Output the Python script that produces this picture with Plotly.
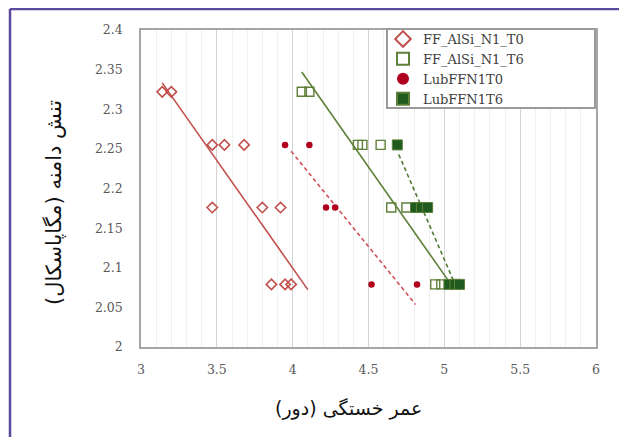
import numpy as np
import plotly.graph_objects as go

# ---- data (log10 cycles vs log10 stress amplitude) ----
t0_x = [3.14, 3.20, 3.47, 3.55, 3.68, 3.47, 3.80, 3.92, 3.86, 3.95, 3.99]
t0_y = [2.322, 2.322, 2.255, 2.255, 2.255, 2.176, 2.176, 2.176, 2.079, 2.079, 2.079]

t6_x = [4.06, 4.11, 4.43, 4.46, 4.58, 4.65, 4.75, 4.94, 4.98]
t6_y = [2.322, 2.322, 2.255, 2.255, 2.255, 2.176, 2.176, 2.079, 2.079]

lub_t0_x = [3.95, 4.11, 4.22, 4.28, 4.52, 4.82]
lub_t0_y = [2.255, 2.255, 2.176, 2.176, 2.079, 2.079]

lub_t6_x = [4.69, 4.81, 4.85, 4.89, 5.03, 5.07, 5.10]
lub_t6_y = [2.255, 2.176, 2.176, 2.176, 2.079, 2.079, 2.079]

series_names = ["FF_AlSi_N1_T0", "FF_AlSi_N1_T6", "LubFFN1T0", "LubFFN1T6"]
# x extent of each drawn trendline
trend_span = {
    "FF_AlSi_N1_T0": [3.14, 4.10],
    "FF_AlSi_N1_T6": [4.06, 5.03],
    "LubFFN1T0": [3.99, 4.81],
    "LubFFN1T6": [4.70, 5.07],
}

x_ticks = [3, 3.5, 4, 4.5, 5, 5.5, 6]
y_ticks = [2, 2.05, 2.1, 2.15, 2.2, 2.25, 2.3, 2.35, 2.4]
x_title = "عمر خستگی (دور)"
y_title = "تنش دامنه (مگاپاسکال)"

RED = "#C0504D"
DRED = "#B0001E"
GREEN = "#5E8038"
DGREEN = "#1F5A1F"
SHORT_DASH = "4px,3px"

fig = go.Figure()

specs = [
    (series_names[0], t0_x, t0_y, dict(symbol="diamond-open", size=8, color=RED, line=dict(width=1.6, color=RED)),
     dict(color=RED, width=1.6, dash="solid")),
    (series_names[1], t6_x, t6_y, dict(symbol="square-open", size=9, color=GREEN, line=dict(width=1.4, color=GREEN)),
     dict(color=GREEN, width=1.6, dash="solid")),
    (series_names[2], lub_t0_x, lub_t0_y, dict(symbol="circle", size=6.5, color=DRED, line=dict(width=0)),
     dict(color="#D0505A", width=1.6, dash=SHORT_DASH)),
    (series_names[3], lub_t6_x, lub_t6_y, dict(symbol="square", size=10, color=DGREEN, line=dict(width=1, color="#5E8038")),
     dict(color="#4E7A34", width=1.6, dash=SHORT_DASH)),
]

# trendlines (least squares y on x)
for name, xs, ys, mk, ln in specs:
    b, a = np.polyfit(np.array(xs), np.array(ys), 1)
    xr = np.array(trend_span[name])
    fig.add_trace(go.Scatter(x=xr, y=a + b * xr, mode="lines", line=ln,
                             showlegend=False, hoverinfo="skip"))

for name, xs, ys, mk, ln in specs:
    fig.add_trace(go.Scatter(x=xs, y=ys, mode="markers", name=name, marker=mk))

# target-window pixel geometry (page body has an 8px margin)
OFF = 8
W, H = 627 - OFF, 437 - OFF
PL, PR, PT, PB = 141, 596, 30, 347   # plot box in window pixels
L, T = PL - OFF, PT - OFF
R, B = 627 - PR, 437 - PB
pw, ph = PR - PL, PB - PT

def fx(px):
    return (px - PL) / pw

def fy(py):
    return (PB - py) / ph

purple = "#5B4A9B"
fig.add_shape(type="line", xref="paper", yref="paper",
              x0=fx(10), x1=fx(640), y0=fy(9), y1=fy(9),
              line=dict(color=purple, width=2.5))
fig.add_shape(type="line", xref="paper", yref="paper",
              x0=fx(10), x1=fx(10), y0=fy(9), y1=fy(450),
              line=dict(color=purple, width=2.5))
# legend frame
fig.add_shape(type="rect", xref="paper", yref="paper",
              x0=fx(387), x1=fx(595), y0=fy(108), y1=fy(29),
              line=dict(color="#9A9A9A", width=2), fillcolor="white", layer="above")

fig.add_annotation(x=fx(348), y=fy(408), xref="paper", yref="paper", text=x_title,
                   showarrow=False, xanchor="center", yanchor="middle",
                   font=dict(family="DejaVu Sans, sans-serif", size=19, color="#111111"))
fig.add_annotation(x=fx(54), y=fy(203), xref="paper", yref="paper", text=y_title,
                   showarrow=False, xanchor="center", yanchor="middle", textangle=-90,
                   font=dict(family="DejaVu Sans, sans-serif", size=21, color="#111111"))

axis_font = dict(family="DejaVu Serif, serif", size=12.5, color="#595959")

fig.update_layout(
    width=W, height=H,
    margin=dict(l=L, r=R, t=T, b=B, pad=0),
    paper_bgcolor="white", plot_bgcolor="white",
    showlegend=True,
    legend=dict(x=fx(383), y=fy(24), xanchor="left", yanchor="top",
                bgcolor="rgba(0,0,0,0)", borderwidth=0,
                font=dict(family="DejaVu Serif, serif", size=13, color="#404040"),
                tracegroupgap=0, itemsizing="constant"),
    xaxis=dict(range=[3, 6], tickvals=x_ticks, ticktext=[f"{v:g}" for v in x_ticks],
               showgrid=True, gridcolor="#D4D4D4", gridwidth=1,
               minor=dict(dtick=0.1, showgrid=True, gridcolor="#F0F0F0", gridwidth=1),
               showline=True, linecolor="#A6A6A6", linewidth=1.5, mirror=True,
               ticks="", tickfont=axis_font, zeroline=False, ticklabelstandoff=10),
    yaxis=dict(range=[2, 2.4], tickvals=y_ticks, ticktext=[f"{v:g}" for v in y_ticks],
               showgrid=False, showline=True, linecolor="#A6A6A6", linewidth=1.5, mirror=True,
               ticks="", tickfont=axis_font, zeroline=False, ticklabelstandoff=14),
)

fig.write_html("out.html")
